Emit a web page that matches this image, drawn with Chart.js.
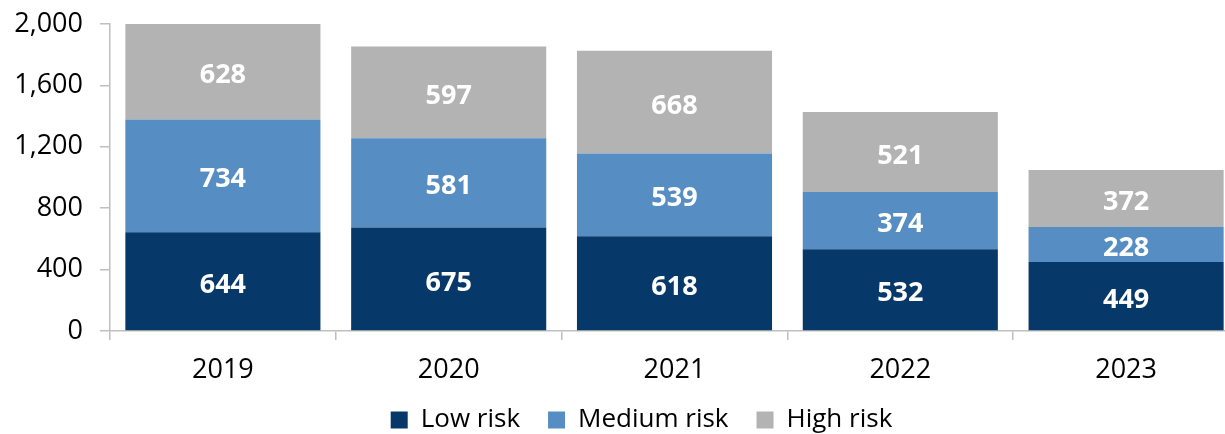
<!DOCTYPE html>
<html>
<head>
    <title>Risk distribution 2019-2023</title>
    <script src="https://cdn.jsdelivr.net/npm/chart.js"></script>
    <style>
        html, body { margin: 0; padding: 0; background: #fff; overflow: hidden; }
        #wrap { width: 1239px; height: 434px; }
    </style>
</head>
<body>
    <div id="wrap">
        <canvas id="chart" width="1239" height="434"></canvas>
    </div>

    <script>
        // Données du graphique
        const years = ['2019', '2020', '2021', '2022', '2023'];
        const lowRisk = [644, 675, 618, 532, 449];
        const mediumRisk = [734, 581, 539, 374, 228];
        const highRisk = [628, 597, 668, 521, 372];
        const yTicks = [0, 400, 800, 1200, 1600, 2000];

        const axisColor = '#bfbfbf';
        const fontFamily = '"Open Sans", "Noto Sans", sans-serif';

        // Valeurs écrites au centre de chaque segment
        const segmentLabels = {
            id: 'segmentLabels',
            afterDatasetsDraw(chart) {
                const ctx = chart.ctx;
                ctx.save();
                ctx.fillStyle = '#ffffff';
                ctx.font = 'bold 27px ' + fontFamily;
                ctx.textAlign = 'center';
                ctx.textBaseline = 'middle';
                chart.data.datasets.forEach((ds, i) => {
                    const meta = chart.getDatasetMeta(i);
                    meta.data.forEach((bar, j) => {
                        // les chiffres sont un peu hauts avec 'middle', on descend de 4px
                        const yMid = (bar.y + bar.base) / 2 + 4;
                        ctx.fillText(ds.data[j].toString(), bar.x, yMid);
                    });
                });
                ctx.restore();
            }
        };

        // Hauteur fixe de la légende et léger décalage vers la droite
        const legendPlacement = {
            id: 'legendPlacement',
            afterInit(chart) {
                const legend = chart.legend;
                const fit = legend.fit;
                legend.fit = function () {
                    fit.call(this);
                    this.height = 55;
                };
            },
            afterLayout(chart) {
                chart.legend.left += 22;
                chart.legend.right += 22;
            }
        };

        const ctx = document.getElementById('chart').getContext('2d');
        const chart = new Chart(ctx, {
            type: 'bar',
            data: {
                labels: years,
                datasets: [
                    { label: 'Low risk', data: lowRisk, backgroundColor: '#07386a' },
                    { label: 'Medium risk', data: mediumRisk, backgroundColor: '#568dc2' },
                    { label: 'High risk', data: highRisk, backgroundColor: '#b3b3b3' }
                ]
            },
            options: {
                responsive: false,
                animation: false,
                devicePixelRatio: 1,
                layout: { padding: { top: 24, right: 0, bottom: 0, left: 0 } },
                datasets: {
                    bar: { barPercentage: 0.864, categoryPercentage: 1.0 }
                },
                plugins: {
                    tooltip: { enabled: false },
                    legend: {
                        position: 'bottom',
                        labels: {
                            color: '#000',
                            font: { family: fontFamily, size: 26 },
                            boxWidth: 17,
                            boxHeight: 17,
                            padding: 28
                        }
                    }
                },
                scales: {
                    x: {
                        stacked: true,
                        afterFit(scale) { scale.height = 48; },
                        border: { color: axisColor, width: 1.5 },
                        grid: {
                            offset: true,
                            drawOnChartArea: false,
                            drawTicks: true,
                            tickLength: 9,
                            color: axisColor,
                            lineWidth: 1.5
                        },
                        ticks: {
                            color: '#000',
                            padding: 14,
                            font: { family: fontFamily, size: 27 }
                        }
                    },
                    y: {
                        stacked: true,
                        min: 0,
                        max: 2000,
                        afterFit(scale) {
                            scale.width = 110;
                            scale.paddingTop = 0;
                            scale.paddingBottom = 0;
                        },
                        afterBuildTicks(scale) {
                            scale.ticks = yTicks.map(v => ({ value: v }));
                        },
                        border: { color: axisColor, width: 1.5 },
                        grid: {
                            drawOnChartArea: false,
                            drawTicks: true,
                            tickLength: 10,
                            color: axisColor,
                            lineWidth: 1.5
                        },
                        ticks: {
                            color: '#000',
                            padding: 17,
                            font: { family: fontFamily, size: 27 },
                            callback: v => v.toLocaleString('en-US')
                        }
                    }
                }
            },
            plugins: [segmentLabels, legendPlacement]
        });
    </script>
</body>
</html>
